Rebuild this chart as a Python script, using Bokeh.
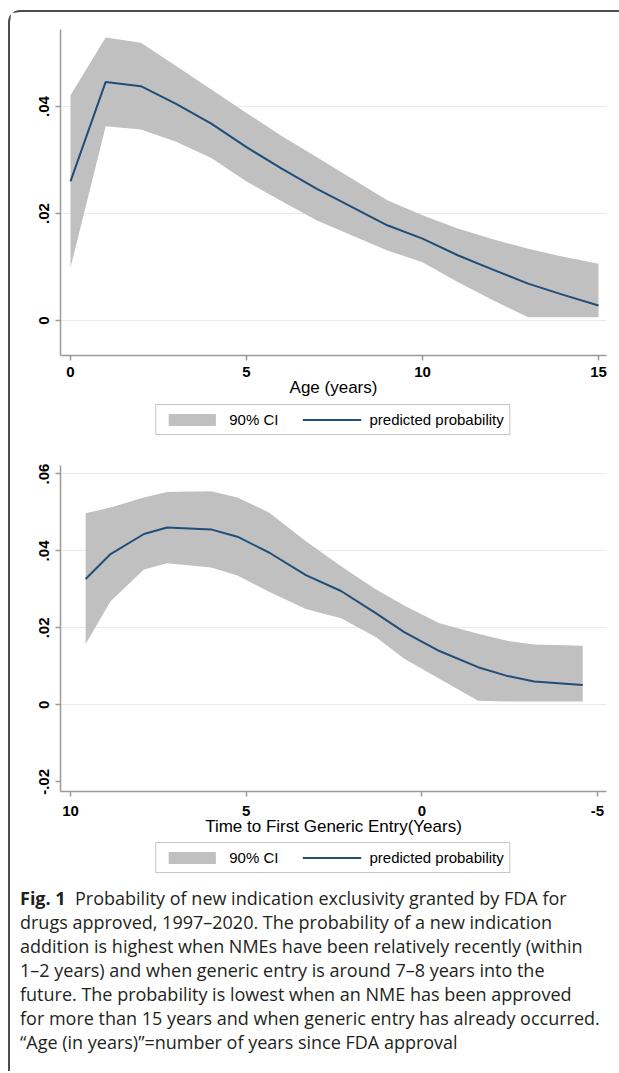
from bokeh.plotting import figure
from bokeh.models import Range1d, FixedTicker, Legend, LegendItem, Div
from bokeh.layouts import column
from bokeh.embed import file_html
from bokeh.resources import INLINE

FONT = "Liberation Sans"
LINE_COLOR = "#1f4e78"
CI_COLOR = "#c0c0c0"
AXIS_COLOR = "#9a9a9a"
GRID_COLOR = "#e3eced"
FIG_W = 609

# ---- Top panel: age since approval ----
age_years = [0, 1, 2, 3, 4, 5, 6, 7, 8, 9, 10, 11, 12, 13, 14, 15]
age_prob = [0.0260, 0.0446, 0.0438, 0.0405, 0.0368, 0.0324, 0.0284, 0.0246,
            0.0212, 0.0178, 0.0153, 0.0122, 0.0095, 0.0069, 0.0048, 0.0028]
age_upper = [0.0421, 0.0529, 0.0519, 0.0476, 0.0432, 0.0388, 0.0345, 0.0305,
             0.0265, 0.0225, 0.0197, 0.0172, 0.0152, 0.0134, 0.0119, 0.0106]
age_lower = [0.0099, 0.0363, 0.0357, 0.0334, 0.0304, 0.0260, 0.0223, 0.0187,
             0.0159, 0.0131, 0.0109, 0.0072, 0.0038, 0.0006, 0.0006, 0.0006]
age_ticks = [0, 5, 10, 15]
age_tick_labels = ["0", "5", "10", "15"]
top_prob_ticks = [0, 0.02, 0.04]
top_prob_labels = ["0", ".02", ".04"]

# ---- Bottom panel: time to first generic entry ----
gen_time = [9.57, 8.86, 7.91, 7.25, 6.0, 5.25, 4.35, 3.3, 2.3, 1.3, 0.5,
            -0.5, -1.6, -2.4, -3.2, -4.58]
gen_prob = [0.0327, 0.0392, 0.0444, 0.0461, 0.0456, 0.0437, 0.0396, 0.0337,
            0.0296, 0.0238, 0.0189, 0.0140, 0.0098, 0.0076, 0.0061, 0.0052]
gen_upper = [0.0498, 0.0513, 0.0539, 0.0553, 0.0555, 0.0539, 0.0500, 0.0425,
             0.0360, 0.0300, 0.0258, 0.0212, 0.0185, 0.0167, 0.0157, 0.0154]
gen_lower = [0.0158, 0.0269, 0.0352, 0.0368, 0.0357, 0.0336, 0.0294, 0.0249,
             0.0225, 0.0176, 0.0120, 0.0068, 0.0011, 0.0009, 0.0009, 0.0009]
gen_ticks = [10, 5, 0, -5]
gen_tick_labels = ["10", "5", "0", "-5"]
bot_prob_ticks = [-0.02, 0, 0.02, 0.04, 0.06]
bot_prob_labels = ["-.02", "0", ".02", ".04", ".06"]
bot_grid_ticks = [0, 0.02, 0.04, 0.06]

legend_labels = ["90% CI", "predicted probability"]


def make_panel(x, mid, lo, hi, x_rng, y_rng, xt, xtl, yt, ytl, gt, xtitle,
               height, top, bottom, xlab_standoff, title_standoff):
    p = figure(width=FIG_W, height=height,
               x_range=Range1d(*x_rng), y_range=Range1d(*y_rng),
               output_backend="svg", toolbar_location=None,
               min_border_left=50, min_border_right=13,
               min_border_top=top, min_border_bottom=bottom)
    p.outline_line_color = None
    p.background_fill_color = "white"
    p.border_fill_color = "white"

    p.varea(x=x, y1=lo, y2=hi, fill_color=CI_COLOR, fill_alpha=1)
    p.line(x=x, y=mid, line_color=LINE_COLOR, line_width=2)

    p.xgrid.visible = False
    p.ygrid.ticker = FixedTicker(ticks=gt)
    p.ygrid.grid_line_color = GRID_COLOR
    p.ygrid.grid_line_width = 1.2
    p.ygrid.level = "underlay"

    p.xaxis.ticker = FixedTicker(ticks=xt)
    p.xaxis.major_label_overrides = dict(zip(xt, xtl))
    p.yaxis.ticker = FixedTicker(ticks=yt)
    p.yaxis.major_label_overrides = dict(zip(yt, ytl))
    for ax in (p.xaxis[0], p.yaxis[0]):
        ax.axis_line_color = AXIS_COLOR
        ax.axis_line_width = 1.5
        ax.major_tick_line_color = AXIS_COLOR
        ax.major_tick_line_width = 1.5
        ax.major_tick_in = 0
        ax.major_tick_out = 5
        ax.minor_tick_line_color = None
        ax.major_label_text_font = FONT
        ax.major_label_text_font_size = "15px"
        ax.major_label_text_font_style = "bold"
        ax.major_label_text_color = "black"
    p.yaxis.major_label_orientation = "vertical"
    p.yaxis.major_label_standoff = 6
    p.xaxis.major_label_standoff = xlab_standoff
    p.xaxis.axis_label = xtitle
    p.xaxis.axis_label_text_font = FONT
    p.xaxis.axis_label_text_font_size = "17px"
    p.xaxis.axis_label_text_font_style = "normal"
    p.xaxis.axis_label_text_color = "black"
    p.xaxis.axis_label_standoff = title_standoff
    return p


def make_legend_strip(height, x, mid, lo, hi, x_rng, top_gap):
    # legend strip under each panel; the series are drawn here too but lie
    # outside this strip's y-range, so only the legend keys are visible
    q = figure(width=FIG_W, height=height, x_range=Range1d(*x_rng),
               y_range=Range1d(1, 2), output_backend="svg",
               toolbar_location=None, x_axis_location=None,
               y_axis_location=None, min_border_left=45,
               min_border_right=8, min_border_top=0, min_border_bottom=0)
    q.outline_line_color = None
    q.grid.visible = False
    q.border_fill_color = "white"
    q.background_fill_color = "white"
    band = q.varea(x=x, y1=lo, y2=hi, fill_color=CI_COLOR, fill_alpha=1)
    ln = q.line(x=x, y=mid, line_color=LINE_COLOR, line_width=2)
    leg = Legend(items=[LegendItem(label=legend_labels[0], renderers=[band]),
                        LegendItem(label=legend_labels[1], renderers=[ln])],
                 orientation="horizontal", location="top_center",
                 glyph_width=59, glyph_height=15, label_height=15,
                 label_standoff=8, spacing=24, padding=6, margin=top_gap,
                 border_line_color="#8c8c8c", border_line_width=1,
                 background_fill_color="white", background_fill_alpha=1,
                 label_text_font=FONT, label_text_font_size="15px",
                 label_text_color="black")
    q.add_layout(leg, "center")
    return q


age_range = (-0.284, 15.227)
gen_range = (10.285, -5.257)

p1 = make_panel(age_years, age_prob, age_lower, age_upper,
                age_range, (-0.00654, 0.0544),
                age_ticks, age_tick_labels, top_prob_ticks, top_prob_labels,
                top_prob_ticks, "Age (years)",
                height=390, top=17, bottom=47,
                xlab_standoff=6, title_standoff=-2)
l1 = make_legend_strip(50, age_years, age_prob, age_lower, age_upper,
                       age_range, 2)

p2 = make_panel(gen_time, gen_prob, gen_lower, gen_upper,
                gen_range, (-0.0225, 0.0622),
                gen_ticks, gen_tick_labels, bot_prob_ticks, bot_prob_labels,
                bot_grid_ticks, "Time to First Generic Entry(Years)",
                height=387, top=13, bottom=48,
                xlab_standoff=9, title_standoff=-2)
l2 = make_legend_strip(41, gen_time, gen_prob, gen_lower, gen_upper,
                       gen_range, 3)

caption_lines = [
    "<b>Fig. 1</b>&nbsp; Probability of new indication exclusivity granted by FDA for",
    "drugs approved, 1997–2020. The probability of a new indication",
    "addition is highest when NMEs have been relatively recently (within",
    "1–2 years) and when generic entry is around 7–8 years into the",
    "future. The probability is lowest when an NME has been approved",
    "for more than 15 years and when generic entry has already occurred.",
    "“Age (in years)”=number of years since FDA approval",
]
caption = Div(text="<br>".join(caption_lines), width=590, height=185,
              margin=(6, 0, 0, 10),
              styles={"font-family": "Open Sans", "font-size": "18px",
                      "line-height": "24px", "white-space": "nowrap",
                      "color": "#231f20"})

layout = column(p1, l1, p2, l2, caption, margin=(10, 0, 0, 8),
                styles={"border-left": "2px solid #4d4d4d",
                        "border-top": "2px solid #4d4d4d",
                        "border-top-left-radius": "12px"})

open("out.html", "w").write(file_html(layout, INLINE))
